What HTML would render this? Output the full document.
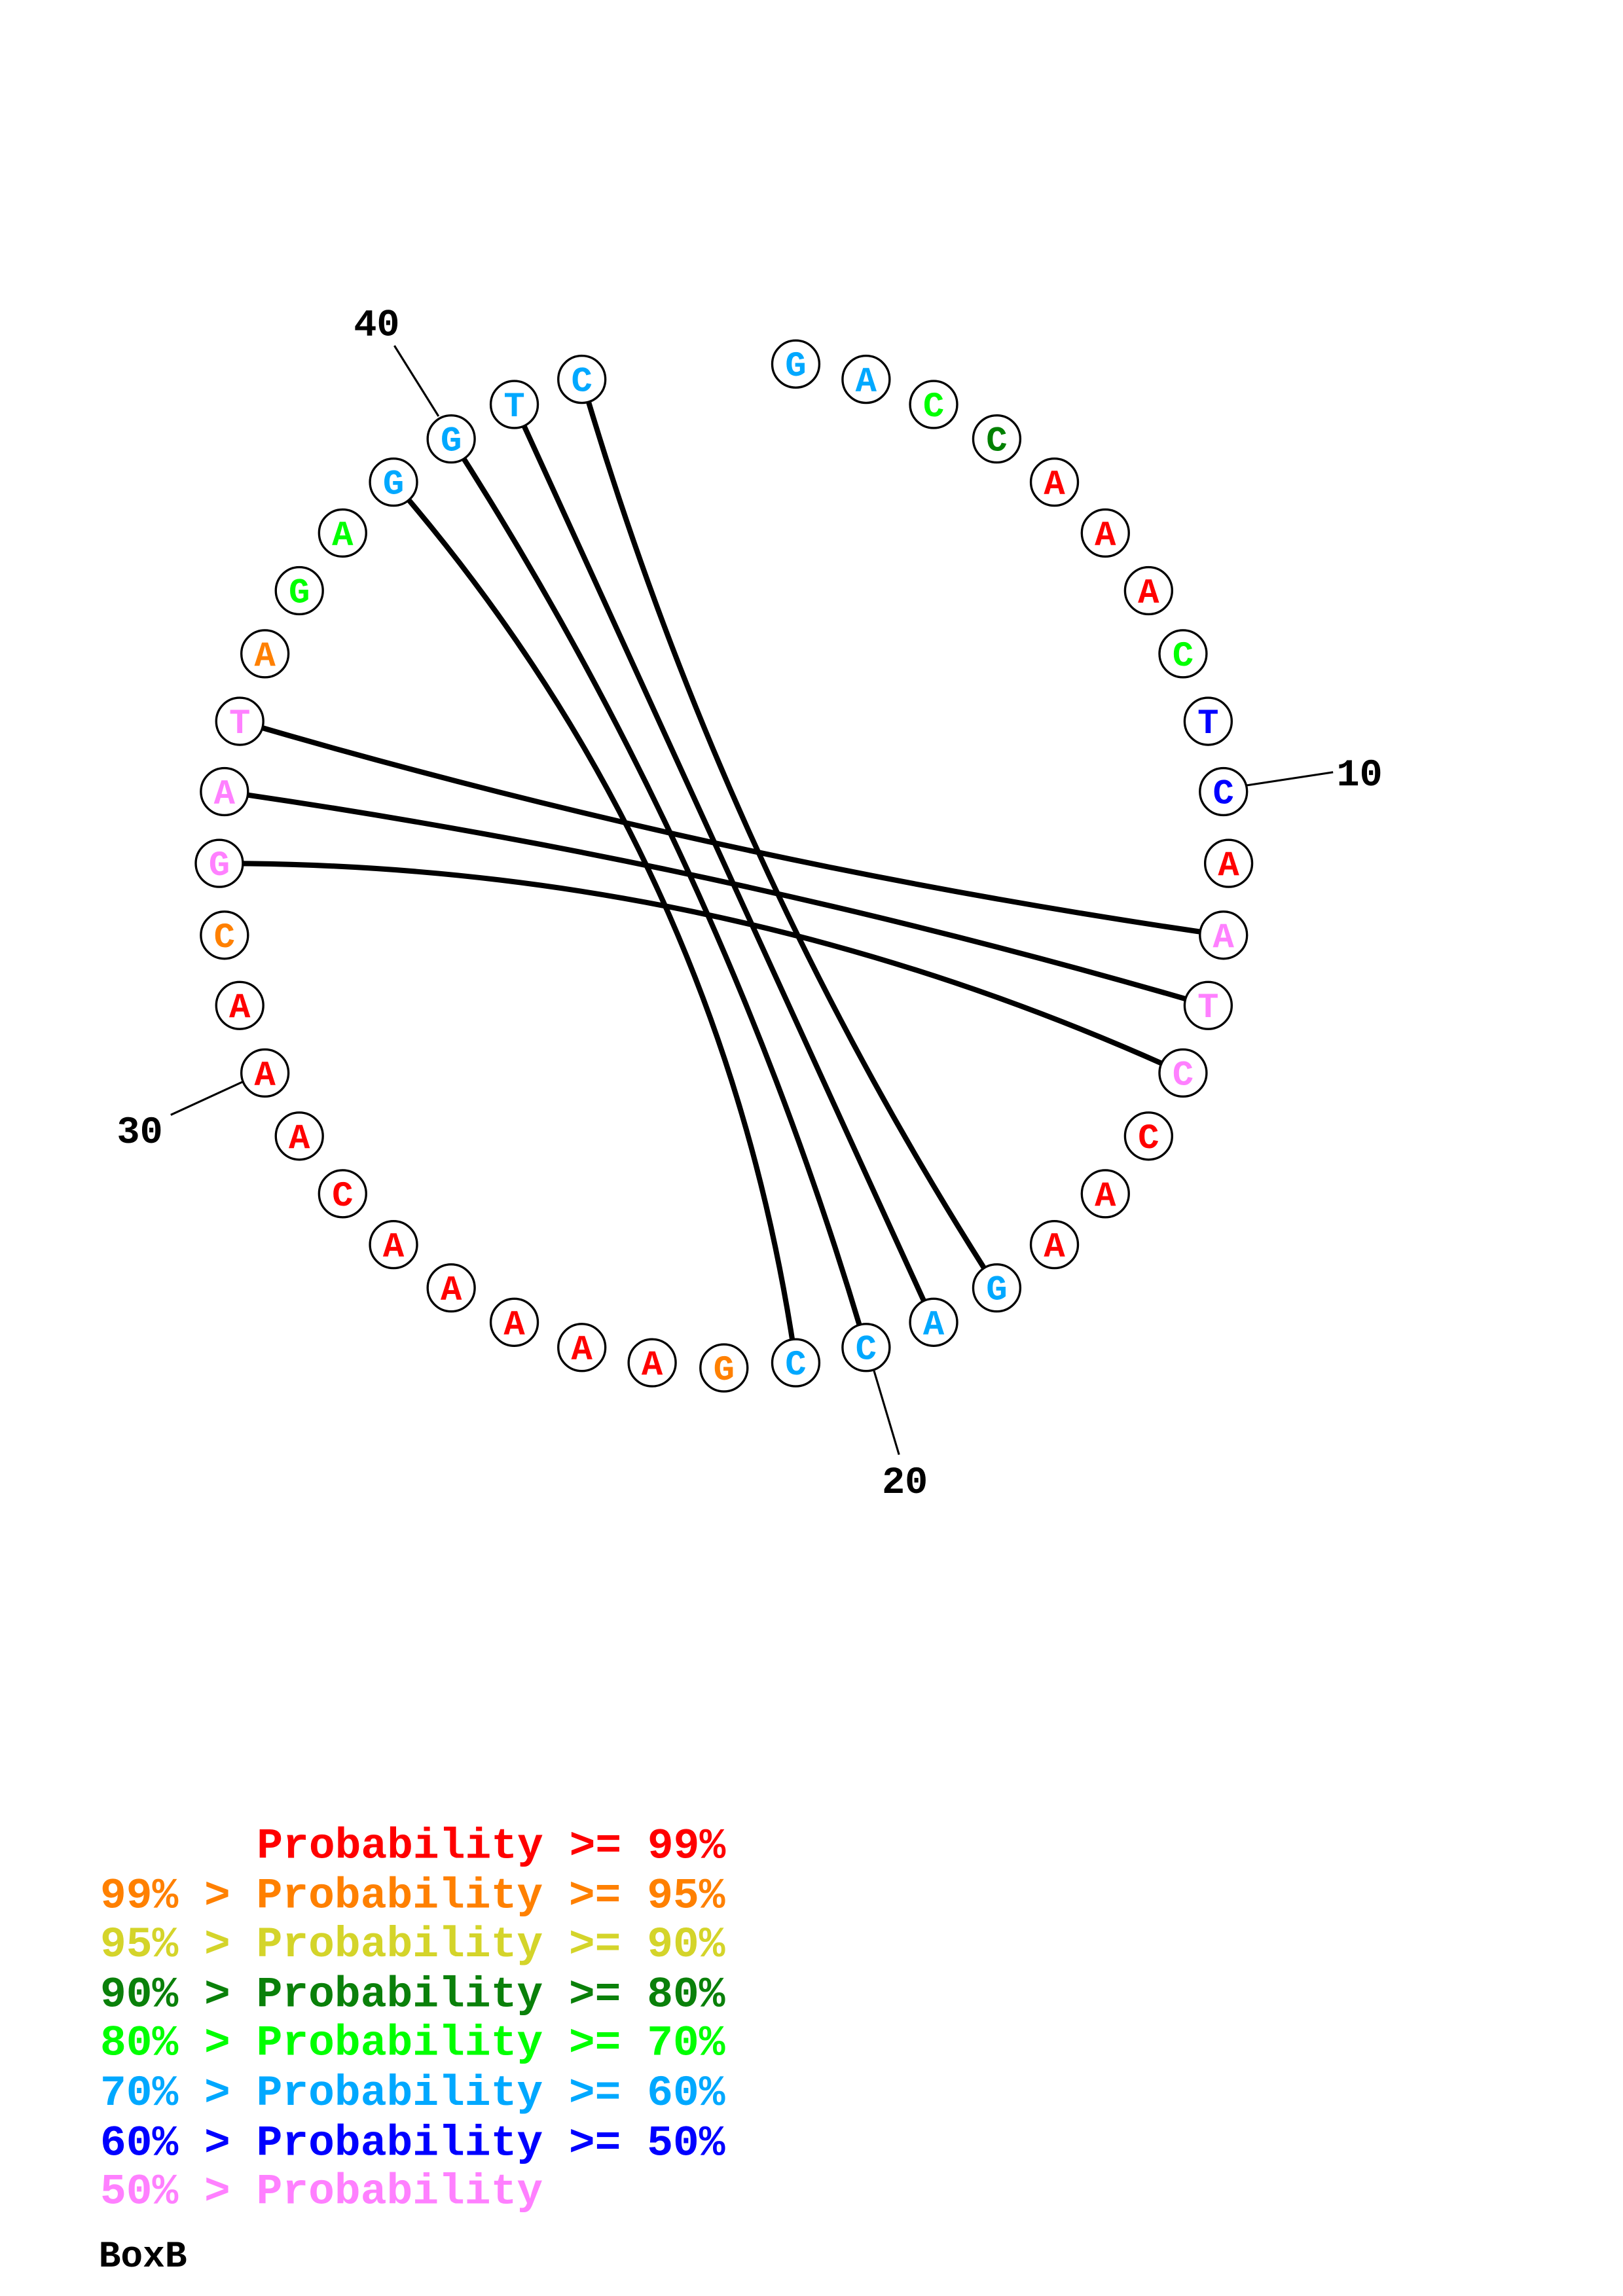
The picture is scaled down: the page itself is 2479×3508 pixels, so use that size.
<!DOCTYPE html>
<html><head><meta charset="utf-8"><style>
html,body{margin:0;padding:0;background:#fff;}
svg{display:block;}
</style></head><body>
<svg width="2479" height="3508" viewBox="0 0 1103 1561" xmlns="http://www.w3.org/2000/svg">
<rect width="1103" height="1561" fill="#fff"/>
<g transform="translate(-2,-3)">
<g fill="none" stroke="#000" stroke-width="3.6" stroke-linecap="round">
<path d="M397.4,260.9 Q494,590 679.4,878.6"/>
<path d="M351.5,278 Q494,590 636.5,902"/>
<path d="M308.6,301.4 Q494,590 590.6,919.1"/>
<path d="M269.4,330.8 Q494,590 542.8,929.5"/>
<path d="M164.9,493.4 Q494,590 833.5,638.8"/>
<path d="M154.5,541.2 Q494,590 823.1,686.6"/>
<path d="M151,590 Q494,590 806,732.5"/>
</g>
<g stroke="#000" stroke-width="1.4">
<line x1="849" y1="537" x2="908" y2="528"/>
<line x1="596" y1="935" x2="613" y2="992"/>
<line x1="168" y1="738" x2="118" y2="761"/>
<line x1="300" y1="286" x2="270" y2="238"/>
</g>
<g font-family="Liberation Mono, monospace" font-weight="bold" font-size="26" fill="#000">
<text x="926" y="537" text-anchor="middle">10</text>
<text x="617" y="1018" text-anchor="middle">20</text>
<text x="97" y="780" text-anchor="middle">30</text>
<text x="258" y="231" text-anchor="middle">40</text>
</g>
<g fill="#fff" stroke="#000" stroke-width="1.5">
<circle cx="542.8" cy="250.5" r="16"/><circle cx="590.6" cy="260.9" r="16"/><circle cx="636.5" cy="278" r="16"/><circle cx="679.4" cy="301.4" r="16"/><circle cx="718.6" cy="330.8" r="16"/><circle cx="753.2" cy="365.4" r="16"/><circle cx="782.6" cy="404.6" r="16"/><circle cx="806" cy="447.5" r="16"/><circle cx="823.1" cy="493.4" r="16"/><circle cx="833.5" cy="541.2" r="16"/><circle cx="837" cy="590" r="16"/><circle cx="833.5" cy="638.8" r="16"/><circle cx="823.1" cy="686.6" r="16"/><circle cx="806" cy="732.5" r="16"/><circle cx="782.6" cy="775.4" r="16"/><circle cx="753.2" cy="814.6" r="16"/><circle cx="718.6" cy="849.2" r="16"/><circle cx="679.4" cy="878.6" r="16"/><circle cx="636.5" cy="902" r="16"/><circle cx="590.6" cy="919.1" r="16"/><circle cx="542.8" cy="929.5" r="16"/><circle cx="494" cy="933" r="16"/><circle cx="445.2" cy="929.5" r="16"/><circle cx="397.4" cy="919.1" r="16"/><circle cx="351.5" cy="902" r="16"/><circle cx="308.6" cy="878.6" r="16"/><circle cx="269.4" cy="849.2" r="16"/><circle cx="234.8" cy="814.6" r="16"/><circle cx="205.4" cy="775.4" r="16"/><circle cx="182" cy="732.5" r="16"/><circle cx="164.9" cy="686.6" r="16"/><circle cx="154.5" cy="638.8" r="16"/><circle cx="151" cy="590" r="16"/><circle cx="154.5" cy="541.2" r="16"/><circle cx="164.9" cy="493.4" r="16"/><circle cx="182" cy="447.5" r="16"/><circle cx="205.4" cy="404.6" r="16"/><circle cx="234.8" cy="365.4" r="16"/><circle cx="269.4" cy="330.8" r="16"/><circle cx="308.6" cy="301.4" r="16"/><circle cx="351.5" cy="278" r="16"/><circle cx="397.4" cy="260.9" r="16"/>
</g>
<g font-family="Liberation Mono, monospace" font-weight="bold" font-size="24" text-anchor="middle">
<text x="542.8" y="258.5" fill="#00a8ff">G</text>
<text x="590.6" y="268.9" fill="#00a8ff">A</text>
<text x="636.5" y="286" fill="#00ff00">C</text>
<text x="679.4" y="309.4" fill="#008000">C</text>
<text x="718.6" y="338.8" fill="#ff0000">A</text>
<text x="753.2" y="373.4" fill="#ff0000">A</text>
<text x="782.6" y="412.6" fill="#ff0000">A</text>
<text x="806" y="455.5" fill="#00ff00">C</text>
<text x="823.1" y="501.4" fill="#0000ff">T</text>
<text x="833.5" y="549.2" fill="#0000ff">C</text>
<text x="837" y="598" fill="#ff0000">A</text>
<text x="833.5" y="646.8" fill="#ff80ff">A</text>
<text x="823.1" y="694.6" fill="#ff80ff">T</text>
<text x="806" y="740.5" fill="#ff80ff">C</text>
<text x="782.6" y="783.4" fill="#ff0000">C</text>
<text x="753.2" y="822.6" fill="#ff0000">A</text>
<text x="718.6" y="857.2" fill="#ff0000">A</text>
<text x="679.4" y="886.6" fill="#00a8ff">G</text>
<text x="636.5" y="910" fill="#00a8ff">A</text>
<text x="590.6" y="927.1" fill="#00a8ff">C</text>
<text x="542.8" y="937.5" fill="#00a8ff">C</text>
<text x="494" y="941" fill="#ff8000">G</text>
<text x="445.2" y="937.5" fill="#ff0000">A</text>
<text x="397.4" y="927.1" fill="#ff0000">A</text>
<text x="351.5" y="910" fill="#ff0000">A</text>
<text x="308.6" y="886.6" fill="#ff0000">A</text>
<text x="269.4" y="857.2" fill="#ff0000">A</text>
<text x="234.8" y="822.6" fill="#ff0000">C</text>
<text x="205.4" y="783.4" fill="#ff0000">A</text>
<text x="182" y="740.5" fill="#ff0000">A</text>
<text x="164.9" y="694.6" fill="#ff0000">A</text>
<text x="154.5" y="646.8" fill="#ff8000">C</text>
<text x="151" y="598" fill="#ff80ff">G</text>
<text x="154.5" y="549.2" fill="#ff80ff">A</text>
<text x="164.9" y="501.4" fill="#ff80ff">T</text>
<text x="182" y="455.5" fill="#ff8000">A</text>
<text x="205.4" y="412.6" fill="#00ff00">G</text>
<text x="234.8" y="373.4" fill="#00ff00">A</text>
<text x="269.4" y="338.8" fill="#00a8ff">G</text>
<text x="308.6" y="309.4" fill="#00a8ff">G</text>
<text x="351.5" y="286" fill="#00a8ff">T</text>
<text x="397.4" y="268.9" fill="#00a8ff">C</text>
</g>
</g>
<g font-family="Liberation Mono, monospace" font-weight="bold" font-size="29.5">
<text x="174.5" y="1263" fill="#ff0000">Probability &gt;= 99%</text>
<text x="68" y="1297" fill="#ff8000">99% &gt; Probability &gt;= 95%</text>
<text x="68" y="1330" fill="#d4d42a">95% &gt; Probability &gt;= 90%</text>
<text x="68" y="1364" fill="#0a800a">90% &gt; Probability &gt;= 80%</text>
<text x="68" y="1397" fill="#00ff00">80% &gt; Probability &gt;= 70%</text>
<text x="68" y="1431" fill="#00a8ff">70% &gt; Probability &gt;= 60%</text>
<text x="68" y="1465" fill="#0000ff">60% &gt; Probability &gt;= 50%</text>
<text x="68" y="1498" fill="#ff80ff">50% &gt; Probability</text>
<text x="67" y="1541" fill="#000" font-size="25">BoxB</text>
</g>
</svg>
</body></html>
